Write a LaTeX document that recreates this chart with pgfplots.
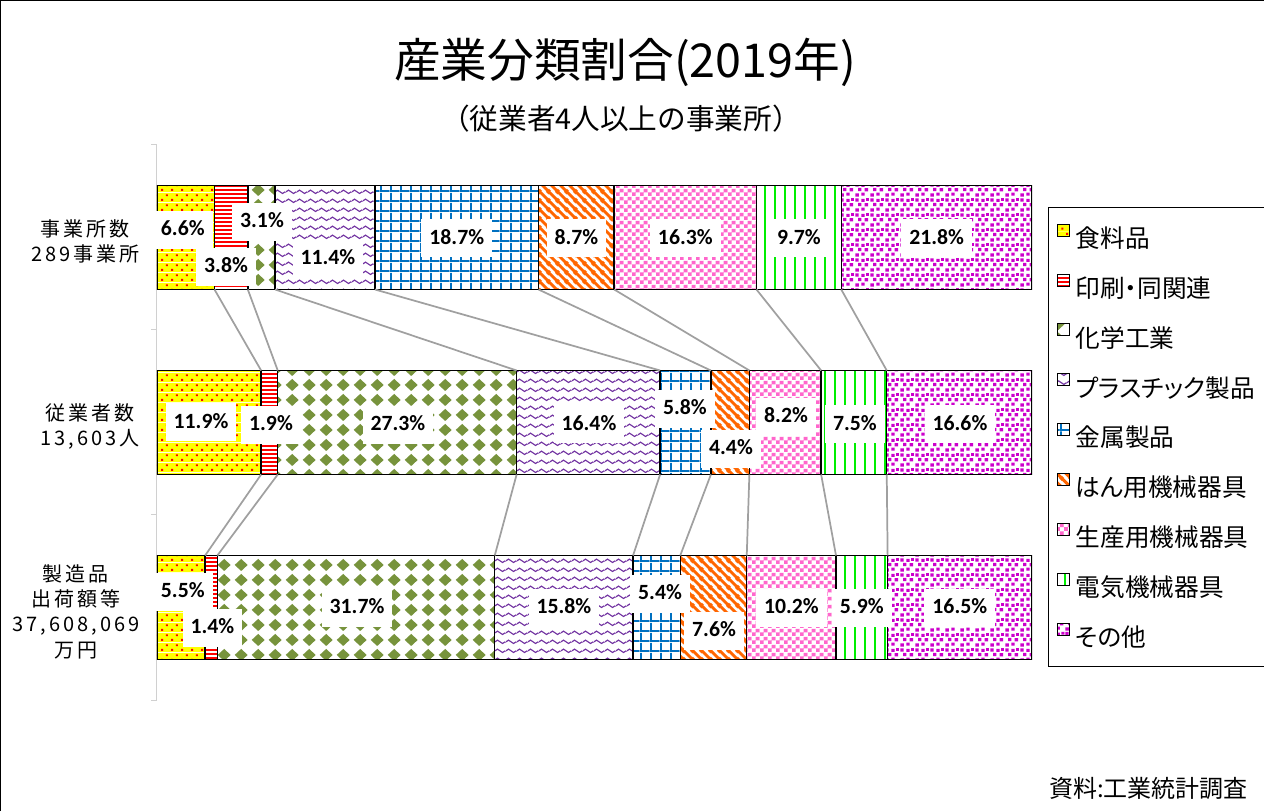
\documentclass[border=0pt]{standalone}
\usepackage{fontspec}
\setmainfont{Noto Sans CJK JP}
\newfontfamily\labfont{Carlito}
\newfontfamily\legfont[RawFeature=+palt]{Noto Sans CJK JP}
\newfontfamily\rowfont[LetterSpace=15]{Noto Sans CJK JP}
\usepackage{pgfplots}
\pgfplotsset{compat=1.18}
\usetikzlibrary{patterns}

\definecolor{foodY}{HTML}{FFFF00}
\definecolor{foodR}{HTML}{FF0000}
\definecolor{printR}{HTML}{FF0000}
\definecolor{chemG}{HTML}{77933C}
\definecolor{plasP}{HTML}{7030A0}
\definecolor{metalB}{HTML}{0070C0}
\definecolor{genO}{HTML}{FF6600}
\definecolor{prodP}{HTML}{FF66CC}
\definecolor{elecG}{HTML}{00EE00}
\definecolor{otherM}{HTML}{CC00CC}
\definecolor{sline}{HTML}{A0A0A0}
\definecolor{axgray}{HTML}{D0D0D0}

% food: yellow with red dots
\pgfdeclarepatterninherentlycolored{foodpat}{\pgfpointorigin}{\pgfpoint{7.5pt}{7.5pt}}{\pgfpoint{7.5pt}{7.5pt}}{%
  \pgfsetfillcolor{foodY}\pgfpathrectangle{\pgfpointorigin}{\pgfpoint{7.5pt}{7.5pt}}\pgfusepath{fill}%
  \pgfsetfillcolor{foodR}%
  \pgfpathrectangle{\pgfpoint{1pt}{1pt}}{\pgfpoint{1.6pt}{1.6pt}}%
  \pgfpathrectangle{\pgfpoint{4.75pt}{4.75pt}}{\pgfpoint{1.6pt}{1.6pt}}\pgfusepath{fill}}
% print: red horizontal lines
\pgfdeclarepatterninherentlycolored{printpat}{\pgfpoint{-0.5pt}{0pt}}{\pgfpoint{3.5pt}{3pt}}{\pgfpoint{3pt}{3pt}}{%
  \pgfsetfillcolor{white}\pgfpathrectangle{\pgfpointorigin}{\pgfpoint{3pt}{3pt}}\pgfusepath{fill}%
  \pgfsetfillcolor{printR}\pgfpathrectangle{\pgfpoint{-0.5pt}{0pt}}{\pgfpoint{4pt}{1.5pt}}\pgfusepath{fill}}
% chem: olive diamonds
\pgfdeclarepatterninherentlycolored{chempat}{\pgfpointorigin}{\pgfpoint{12.5pt}{11.25pt}}{\pgfpoint{12.5pt}{11.25pt}}{%
  \pgfsetfillcolor{white}\pgfpathrectangle{\pgfpointorigin}{\pgfpoint{12.5pt}{11.25pt}}\pgfusepath{fill}%
  \pgfsetfillcolor{chemG}%
  \pgfpathmoveto{\pgfpoint{6.25pt}{0.8pt}}\pgfpathlineto{\pgfpoint{11.2pt}{5.625pt}}%
  \pgfpathlineto{\pgfpoint{6.25pt}{10.45pt}}\pgfpathlineto{\pgfpoint{1.3pt}{5.625pt}}\pgfpathclose\pgfusepath{fill}}
% plastic: purple waves
\pgfdeclarepatterninherentlycolored{plaspat}{\pgfpointorigin}{\pgfpoint{8.25pt}{6.5pt}}{\pgfpoint{8.25pt}{6.5pt}}{%
  \pgfsetfillcolor{white}\pgfpathrectangle{\pgfpointorigin}{\pgfpoint{8.25pt}{6.5pt}}\pgfusepath{fill}%
  \pgfsetstrokecolor{plasP}\pgfsetlinewidth{0.9pt}%
  \pgfpathmoveto{\pgfpoint{0pt}{3.25pt}}%
  \pgfpathsine{\pgfpoint{2.0625pt}{1.3pt}}\pgfpathcosine{\pgfpoint{2.0625pt}{-1.3pt}}%
  \pgfpathsine{\pgfpoint{2.0625pt}{-1.3pt}}\pgfpathcosine{\pgfpoint{2.0625pt}{1.3pt}}%
  \pgfusepath{stroke}}
% metal: blue grid
\pgfdeclarepatterninherentlycolored{metalpat}{\pgfpointorigin}{\pgfpoint{7.5pt}{7.5pt}}{\pgfpoint{7.5pt}{7.5pt}}{%
  \pgfsetfillcolor{white}\pgfpathrectangle{\pgfpointorigin}{\pgfpoint{7.5pt}{7.5pt}}\pgfusepath{fill}%
  \pgfsetfillcolor{metalB}%
  \pgfpathrectangle{\pgfpointorigin}{\pgfpoint{1.5pt}{7.5pt}}%
  \pgfpathrectangle{\pgfpointorigin}{\pgfpoint{7.5pt}{1.5pt}}\pgfusepath{fill}}
% general purpose: orange diagonal stripes
\pgfdeclarepatterninherentlycolored{genpat}{\pgfpointorigin}{\pgfpoint{6.75pt}{6.75pt}}{\pgfpoint{6.75pt}{6.75pt}}{%
  \pgfsetfillcolor{white}\pgfpathrectangle{\pgfpointorigin}{\pgfpoint{6.75pt}{6.75pt}}\pgfusepath{fill}%
  \pgfsetstrokecolor{genO}\pgfsetlinewidth{2.4pt}%
  \pgfpathmoveto{\pgfpoint{-1pt}{7.75pt}}\pgfpathlineto{\pgfpoint{7.75pt}{-1pt}}%
  \pgfpathmoveto{\pgfpoint{-1pt}{1pt}}\pgfpathlineto{\pgfpoint{1pt}{-1pt}}%
  \pgfpathmoveto{\pgfpoint{5.75pt}{7.75pt}}\pgfpathlineto{\pgfpoint{7.75pt}{5.75pt}}%
  \pgfusepath{stroke}}
% production: pink checkerboard
\pgfdeclarepatterninherentlycolored{prodpat}{\pgfpointorigin}{\pgfpoint{6pt}{6pt}}{\pgfpoint{6pt}{6pt}}{%
  \pgfsetfillcolor{white}\pgfpathrectangle{\pgfpointorigin}{\pgfpoint{6pt}{6pt}}\pgfusepath{fill}%
  \pgfsetfillcolor{prodP}%
  \pgfpathrectangle{\pgfpointorigin}{\pgfpoint{3pt}{3pt}}%
  \pgfpathrectangle{\pgfpoint{3pt}{3pt}}{\pgfpoint{3pt}{3pt}}\pgfusepath{fill}}
% electric: green vertical lines (overlapping tiles to avoid seams)
\pgfdeclarepatterninherentlycolored{elecpat}{\pgfpoint{0pt}{-1pt}}{\pgfpoint{7.5pt}{8.5pt}}{\pgfpoint{7.5pt}{7.5pt}}{%
  \pgfsetfillcolor{white}\pgfpathrectangle{\pgfpointorigin}{\pgfpoint{7.5pt}{7.5pt}}\pgfusepath{fill}%
  \pgfsetfillcolor{elecG}\pgfpathrectangle{\pgfpoint{3pt}{-1pt}}{\pgfpoint{1.5pt}{9.5pt}}\pgfusepath{fill}}
% other: magenta confetti
\pgfdeclarepatterninherentlycolored{otherpat}{\pgfpointorigin}{\pgfpoint{11.25pt}{11.25pt}}{\pgfpoint{11.25pt}{11.25pt}}{%
  \pgfsetfillcolor{white}\pgfpathrectangle{\pgfpointorigin}{\pgfpoint{11.25pt}{11.25pt}}\pgfusepath{fill}%
  \pgfsetfillcolor{otherM}%
  \pgfpathrectangle{\pgfpoint{0.2pt}{0.3pt}}{\pgfpoint{2.8pt}{2.6pt}}%
  \pgfpathrectangle{\pgfpoint{5.0pt}{1.0pt}}{\pgfpoint{2.7pt}{2.4pt}}%
  \pgfpathrectangle{\pgfpoint{2.5pt}{4.6pt}}{\pgfpoint{2.6pt}{2.6pt}}%
  \pgfpathrectangle{\pgfpoint{7.6pt}{4.4pt}}{\pgfpoint{2.8pt}{2.6pt}}%
  \pgfpathrectangle{\pgfpoint{0.3pt}{8.3pt}}{\pgfpoint{2.6pt}{2.6pt}}%
  \pgfpathrectangle{\pgfpoint{5.0pt}{8.0pt}}{\pgfpoint{2.6pt}{2.4pt}}%
  \pgfpathrectangle{\pgfpoint{8.9pt}{8.8pt}}{\pgfpoint{2.2pt}{2.2pt}}%
  \pgfusepath{fill}}

\pgfplotsset{
  mybar/.style={draw=black, line width=1.1pt, pattern=#1,
    legend image code/.code={\draw[pattern=#1, draw=black, line width=0.8pt] (0pt,2.5pt) rectangle (9pt,11.5pt);}},
}

\begin{document}
\begin{tikzpicture}
\path[use as bounding box] (0,0) rectangle (948pt,608.25pt);
\draw[line width=1pt] (0.5pt,0) -- (0.5pt,607.75pt) -- (948pt,607.75pt);
\node[font=\fontsize{35pt}{40pt}\selectfont] at (468.75pt,561.75pt) {産業分類割合(2019年)};
\node[font=\fontsize{21.5pt}{26pt}\selectfont] at (465.75pt,519pt) {（従業者4人以上の事業所）};
\node[font=\fontsize{18pt}{22pt}\selectfont, anchor=east, inner sep=0pt] at (936pt,17.25pt) {資料:工業統計調査};

\begin{axis}[
  at={(117.75pt,83.25pt)}, anchor=south west,
  scale only axis, width=656.25pt, height=416.25pt,
  xbar stacked, bar width=78pt,
  xmin=0, xmax=100, ymin=-0.5, ymax=2.5,
  axis x line=none,
  axis y line*=left,
  y axis line style={draw=axgray, line width=0.75pt},
  ytick={0,1,2},
  yticklabels={{製造品\\出荷額等\\37,608,069\\万円},{従業者数\\13,603人},{事業所数\\289事業所}},
  major tick length=0pt,
  minor ytick={-0.5,0.5,1.5,2.5},
  minor tick length=4.5pt,
  tick align=outside,
  tick style={draw=axgray, line width=0.75pt},
  yticklabel style={align=center, anchor=east, inner sep=0pt, xshift=-13pt, yshift=-3pt,
    font=\rowfont\fontsize{15pt}{19pt}\selectfont},
  legend cell align=left,
  legend style={at={(1.0183,0.8883)}, anchor=north west, draw=black, line width=1pt,
    inner xsep=6pt, inner ysep=12pt, row sep=16.5pt,
    font=\legfont\fontsize{18.5pt}{22pt}\selectfont,
    nodes={inner xsep=4.5pt, inner ysep=0pt, text height=15pt, text depth=3pt}},
]
\addplot[mybar=foodpat]  coordinates {(6.57,2) (11.9,1) (5.5,0)};
\addplot[mybar=printpat] coordinates {(3.81,2) (1.9,1) (1.4,0)};
\addplot[mybar=chempat]  coordinates {(3.11,2) (27.3,1) (31.7,0)};
\addplot[mybar=plaspat]  coordinates {(11.42,2) (16.4,1) (15.8,0)};
\addplot[mybar=metalpat] coordinates {(18.69,2) (5.8,1) (5.4,0)};
\addplot[mybar=genpat]   coordinates {(8.65,2) (4.4,1) (7.6,0)};
\addplot[mybar=prodpat]  coordinates {(16.26,2) (8.2,1) (10.2,0)};
\addplot[mybar=elecpat]  coordinates {(9.69,2) (7.5,1) (5.9,0)};
\addplot[mybar=otherpat] coordinates {(21.80,2) (16.6,1) (16.5,0)};
\legend{食料品,印刷・同関連,化学工業,プラスチック製品,金属製品,はん用機械器具,生産用機械器具,電気機械器具,その他}
\end{axis}

\begin{axis}[
  at={(117.75pt,83.25pt)}, anchor=south west,
  scale only axis, width=656.25pt, height=416.25pt,
  xmin=0, xmax=100, ymin=-0.5, ymax=2.5,
  hide axis, clip=false,
]
\addplot[draw=sline, line width=1.3pt, unbounded coords=jump, mark=none] table {
x y
6.57 1.7189
11.9 1.2811
nan nan
10.38 1.7189
13.8 1.2811
nan nan
13.49 1.7189
41.1 1.2811
nan nan
24.91 1.7189
57.5 1.2811
nan nan
43.60 1.7189
63.3 1.2811
nan nan
52.25 1.7189
67.7 1.2811
nan nan
68.51 1.7189
75.9 1.2811
nan nan
78.20 1.7189
83.4 1.2811
nan nan
11.9 0.7189
5.5 0.2811
nan nan
13.8 0.7189
6.9 0.2811
nan nan
41.1 0.7189
38.6 0.2811
nan nan
57.5 0.7189
54.4 0.2811
nan nan
63.3 0.7189
59.8 0.2811
nan nan
67.7 0.7189
67.4 0.2811
nan nan
75.9 0.7189
77.6 0.2811
nan nan
83.4 0.7189
83.5 0.2811
};
\addplot[draw=none, mark=none, nodes near coords, point meta=explicit symbolic,
  nodes near coords align=center,
  every node near coord/.style={fill=white, anchor=center, inner xsep=6pt, inner ysep=7.5pt,
    text height=11pt, text depth=2.5pt, font=\labfont\bfseries\fontsize{16.3pt}{19pt}\selectfont}]
coordinates {
(2.95,2.043) [6.6\%]
(7.89,1.8405) [3.8\%]
(12.0,2.084) [3.1\%]
(19.54,1.884) [11.4\%]
(34.26,1.995) [18.7\%]
(47.93,1.995) [8.7\%]
(60.38,1.995) [16.3\%]
(73.36,1.995) [9.7\%]
(89.10,1.995) [21.8\%]
(5.03,1.0) [11.9\%]
(13.03,0.988) [1.9\%]
(27.54,0.988) [27.3\%]
(49.37,0.99) [16.4\%]
(60.34,1.073) [5.8\%]
(65.6,0.857) [4.4\%]
(71.89,1.03) [8.2\%]
(79.77,0.99) [7.5\%]
(91.77,0.99) [16.6\%]
(2.95,0.084) [5.5\%]
(6.34,-0.111) [1.4\%]
(22.86,-0.003) [31.7\%]
(46.5,-0.003) [15.8\%]
(57.49,0.073) [5.4\%]
(63.66,-0.127) [7.6\%]
(72.5,-0.003) [10.2\%]
(80.55,-0.003) [5.9\%]
(91.75,-0.003) [16.5\%]
};
\end{axis}
\end{tikzpicture}
\end{document}
